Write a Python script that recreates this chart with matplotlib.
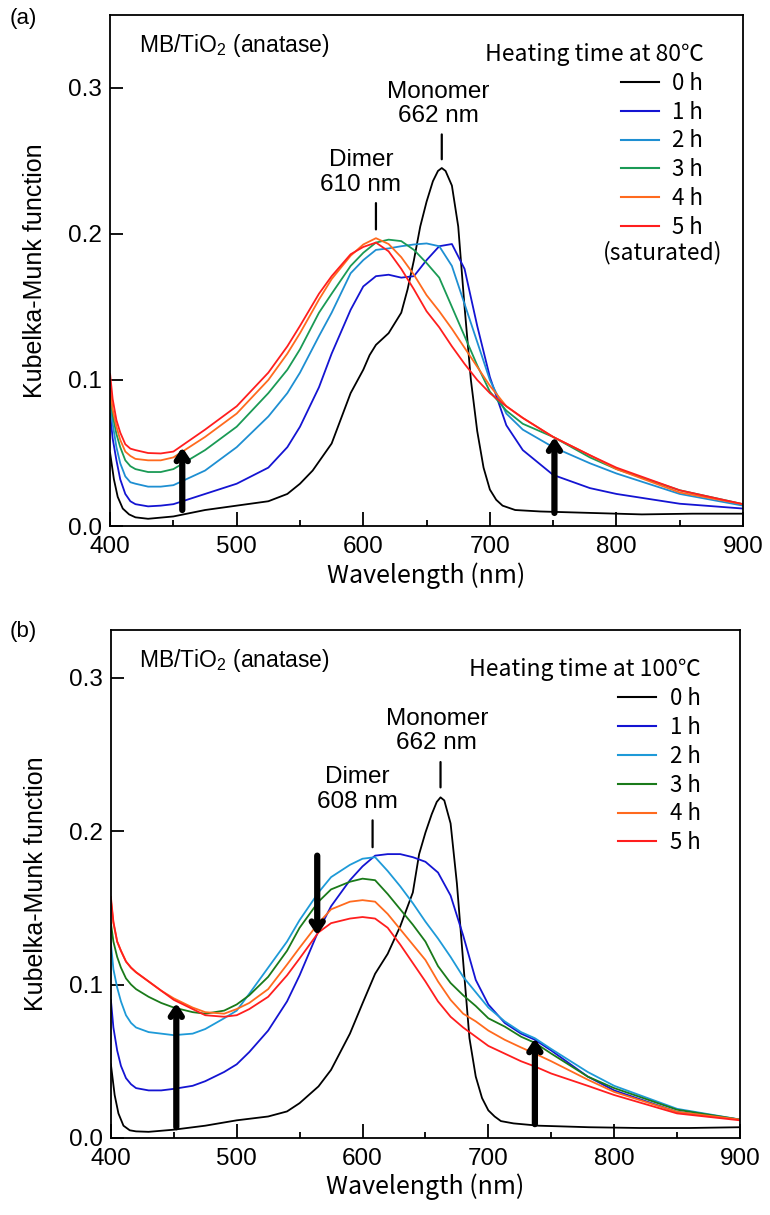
import matplotlib
matplotlib.use('Agg')
import matplotlib.pyplot as plt
from matplotlib.ticker import MultipleLocator

plt.rcParams['font.family'] = ['Liberation Sans', 'DejaVu Sans']
plt.rcParams['mathtext.default'] = 'regular'
JP = ['Noto Sans CJK JP', 'DejaVu Sans']

# ---- データ (a): 80℃ ----
wl_black_a = [400, 403, 406, 410, 415, 420, 430, 450, 475, 500, 525, 540, 550, 560, 575, 590, 600, 605, 610,
              620, 630, 635, 640, 645, 650, 655, 659, 662, 665, 670, 675, 680, 685, 690, 695, 700, 705, 710,
              720, 740, 780, 820, 860, 900]
km_0h_a = [0.050, 0.032, 0.020, 0.012, 0.008, 0.006, 0.005, 0.0066, 0.011, 0.014, 0.017, 0.022, 0.029, 0.038,
           0.0565, 0.091, 0.107, 0.117, 0.124, 0.132, 0.146, 0.162, 0.182, 0.205, 0.222, 0.236, 0.243, 0.245,
           0.243, 0.233, 0.205, 0.15, 0.10, 0.065, 0.04, 0.025, 0.018, 0.014, 0.011, 0.010, 0.009, 0.008,
           0.0085, 0.0085]

wl_a = [400, 402, 405, 408, 412, 416, 420, 430, 440, 450, 475, 500, 525, 540, 550, 565, 575, 590, 600, 610,
        620, 630, 640, 650, 660, 670, 680, 690, 700, 713, 726, 750, 779, 800, 850, 900]
km_1h_a = [0.077, 0.060, 0.045, 0.032, 0.022, 0.017, 0.015, 0.0135, 0.014, 0.015, 0.022, 0.029, 0.040, 0.054,
           0.068, 0.095, 0.118, 0.148, 0.164, 0.171, 0.172, 0.170, 0.171, 0.182, 0.1915, 0.193, 0.176, 0.137,
           0.102, 0.069, 0.052, 0.035, 0.026, 0.022, 0.0153, 0.012]
km_2h_a = [0.086, 0.070, 0.054, 0.043, 0.034, 0.030, 0.029, 0.027, 0.027, 0.028, 0.038, 0.054, 0.075, 0.091,
           0.105, 0.130, 0.146, 0.173, 0.182, 0.189, 0.190, 0.1915, 0.1927, 0.1934, 0.1915, 0.178, 0.152, 0.126,
           0.100, 0.077, 0.066, 0.054, 0.043, 0.036, 0.022, 0.014]
km_3h_a = [0.091, 0.076, 0.063, 0.054, 0.045, 0.041, 0.039, 0.037, 0.037, 0.039, 0.052, 0.068, 0.091, 0.107,
           0.121, 0.146, 0.159, 0.178, 0.187, 0.194, 0.196, 0.195, 0.189, 0.180, 0.170, 0.150, 0.130, 0.110,
           0.092, 0.079, 0.070, 0.061, 0.047, 0.039, 0.0245, 0.015]
km_4h_a = [0.094, 0.080, 0.068, 0.059, 0.051, 0.048, 0.046, 0.045, 0.045, 0.047, 0.061, 0.077, 0.100, 0.118,
           0.132, 0.155, 0.169, 0.185, 0.1927, 0.197, 0.193, 0.184, 0.172, 0.158, 0.147, 0.135, 0.122, 0.109,
           0.096, 0.082, 0.074, 0.061, 0.0485, 0.039, 0.023, 0.015]
km_5h_a = [0.104, 0.087, 0.0725, 0.064, 0.056, 0.053, 0.052, 0.050, 0.0497, 0.051, 0.066, 0.082, 0.105, 0.123,
           0.137, 0.159, 0.171, 0.186, 0.191, 0.194, 0.188, 0.176, 0.162, 0.147, 0.136, 0.123, 0.111, 0.100,
           0.091, 0.082, 0.074, 0.061, 0.0485, 0.040, 0.0245, 0.015]

# ---- データ (b): 100℃ ----
wl_black_b = [400, 403, 406, 410, 415, 420, 430, 450, 475, 500, 525, 540, 550, 565, 575, 590, 600, 610, 620,
              630, 640, 645, 650, 655, 659, 662, 665, 670, 675, 680, 685, 690, 695, 700, 705, 710, 720, 740,
              780, 820, 860, 900]
km_0h_b = [0.048, 0.028, 0.016, 0.008, 0.005, 0.0043, 0.004, 0.0054, 0.008, 0.0115, 0.014, 0.0173, 0.0227,
           0.0336, 0.0444, 0.068, 0.0877, 0.107, 0.120, 0.138, 0.160, 0.185, 0.199, 0.211, 0.219, 0.222, 0.220,
           0.205, 0.166, 0.115, 0.065, 0.040, 0.026, 0.018, 0.014, 0.011, 0.0095, 0.008, 0.007, 0.0065,
           0.0065, 0.007]

wl_b = [400, 402, 405, 408, 412, 416, 420, 430, 440, 450, 465, 475, 490, 500, 510, 525, 540, 550, 565, 575,
        590, 600, 610, 620, 630, 640, 650, 660, 670, 680, 690, 700, 713, 726, 737, 750, 779, 800, 850, 900]
km_1h_b = [0.090, 0.072, 0.057, 0.047, 0.039, 0.035, 0.0325, 0.031, 0.031, 0.032, 0.034, 0.037, 0.043, 0.048,
           0.056, 0.070, 0.089, 0.106, 0.135, 0.151, 0.168, 0.177, 0.184, 0.185, 0.185, 0.183, 0.180, 0.173,
           0.158, 0.132, 0.103, 0.087, 0.075, 0.068, 0.064, 0.057, 0.040, 0.031, 0.017, 0.012]
km_2h_b = [0.127, 0.110, 0.098, 0.089, 0.080, 0.075, 0.072, 0.069, 0.068, 0.067, 0.068, 0.071, 0.078, 0.083,
           0.094, 0.111, 0.128, 0.142, 0.160, 0.170, 0.178, 0.182, 0.183, 0.174, 0.164, 0.153, 0.141, 0.130,
           0.118, 0.105, 0.095, 0.085, 0.076, 0.069, 0.065, 0.058, 0.043, 0.034, 0.019, 0.012]
km_3h_b = [0.140, 0.128, 0.118, 0.111, 0.104, 0.100, 0.097, 0.092, 0.088, 0.085, 0.082, 0.081, 0.083, 0.087,
           0.093, 0.105, 0.122, 0.137, 0.154, 0.162, 0.167, 0.169, 0.168, 0.159, 0.149, 0.139, 0.128, 0.112,
           0.101, 0.093, 0.086, 0.078, 0.0726, 0.066, 0.062, 0.055, 0.040, 0.0325, 0.0184, 0.012]
km_4h_b = [0.155, 0.140, 0.128, 0.122, 0.115, 0.111, 0.108, 0.102, 0.096, 0.091, 0.085, 0.082, 0.081, 0.084,
           0.088, 0.097, 0.113, 0.124, 0.140, 0.149, 0.154, 0.155, 0.154, 0.146, 0.136, 0.126, 0.116, 0.102,
           0.090, 0.081, 0.076, 0.070, 0.064, 0.059, 0.055, 0.050, 0.038, 0.030, 0.017, 0.012]
km_5h_b = [0.157, 0.141, 0.128, 0.122, 0.115, 0.111, 0.108, 0.102, 0.096, 0.090, 0.084, 0.080, 0.079, 0.080,
           0.084, 0.092, 0.106, 0.117, 0.134, 0.140, 0.143, 0.144, 0.143, 0.137, 0.126, 0.114, 0.102, 0.089,
           0.079, 0.072, 0.066, 0.060, 0.055, 0.050, 0.0466, 0.042, 0.034, 0.028, 0.016, 0.0115]

labels = ['0 h', '1 h', '2 h', '3 h', '4 h', '5 h']
colors_a = ['black', '#1414d2', '#1e8fd2', '#1a9a55', '#ff6a1e', '#ff1e1e']
colors_b = ['black', '#1414d2', '#1e9ad8', '#1a7a1a', '#ff6a1e', '#ff1e1e']

panels = [
    dict(pos=[0.143, 0.567, 0.822, 0.421], ymax=0.35, tag='(a)', tag_y=0.985, temp='80℃',
         wl0=wl_black_a, wl=wl_a, series=[km_0h_a, km_1h_a, km_2h_a, km_3h_a, km_4h_a, km_5h_a], colors=colors_a,
         dimer=610, dimer_y=(0.203, 0.221), mono_y=(0.251, 0.268),
         up_arrows=[(457, 0.011, 0.054), (751, 0.009, 0.061)], down_arrows=[]),
    dict(pos=[0.144, 0.0634, 0.817, 0.418], ymax=0.331, tag='(b)', tag_y=0.48, temp='100℃',
         wl0=wl_black_b, wl=wl_b, series=[km_0h_b, km_1h_b, km_2h_b, km_3h_b, km_4h_b, km_5h_b], colors=colors_b,
         dimer=608, dimer_y=(0.1895, 0.207), mono_y=(0.2285, 0.245),
         up_arrows=[(452, 0.007, 0.088), (737, 0.009, 0.065)], down_arrows=[(564, 0.184, 0.132)]),
]

fig = plt.figure(figsize=(7.7, 12.15), dpi=100)

for p in panels:
    ax = fig.add_axes(p['pos'])
    for i, (vals, col, lab) in enumerate(zip(p['series'], p['colors'], labels)):
        x = p['wl0'] if i == 0 else p['wl']
        ax.plot(x, vals, color=col, lw=1.3, label=lab)

    ax.set_xlim(400, 900)
    ax.set_ylim(0, p['ymax'])
    ax.set_xticks(range(400, 901, 100))
    ax.xaxis.set_minor_locator(MultipleLocator(50))
    ax.set_yticks([0.0, 0.1, 0.2, 0.3])
    ax.set_yticklabels(['0.0', '0.1', '0.2', '0.3'])
    ax.tick_params(axis='both', which='major', direction='in', labelsize=17.5, width=1.3)
    ax.tick_params(axis='x', which='major', length=10, pad=7)
    ax.tick_params(axis='y', which='major', length=9, pad=6)
    ax.tick_params(axis='x', which='minor', direction='in', length=4.5, width=1.3)
    for s in ax.spines.values():
        s.set_linewidth(1.3)

    ax.set_xlabel('Wavelength (nm)', family=JP, fontsize=18, labelpad=3)
    ax.set_ylabel('Kubelka-Munk function', fontsize=18, labelpad=15)

    fig.text(0.013, p['tag_y'], p['tag'], fontsize=16, va='center')
    ax.text(0.045, 0.94, 'MB/TiO$_2$ (anatase)', transform=ax.transAxes, fontsize=16.5, va='center')

    # ピーク注記
    d0, d1 = p['dimer_y']
    ax.annotate('', xy=(p['dimer'], d0), xytext=(p['dimer'], d1),
                arrowprops=dict(arrowstyle='-', lw=1.6, color='black', shrinkA=0, shrinkB=0))
    ax.text(p['dimer'] - 12, d1 + 0.005, f"Dimer\n{p['dimer']} nm", ha='center', va='bottom',
            fontsize=17.5, linespacing=1.15)
    m0, m1 = p['mono_y']
    ax.annotate('', xy=(662, m0), xytext=(662, m1),
                arrowprops=dict(arrowstyle='-', lw=1.6, color='black', shrinkA=0, shrinkB=0))
    ax.text(659, m1 + 0.005, 'Monomer\n662 nm', ha='center', va='bottom', fontsize=17.5, linespacing=1.15)

    # 変化の矢印
    for xw, y0, y1 in p['up_arrows'] + p['down_arrows']:
        ax.annotate('', xy=(xw, y1), xytext=(xw, y0),
                    arrowprops=dict(arrowstyle='->,head_length=0.6,head_width=0.4', lw=4.5,
                                    color='black', shrinkA=0, shrinkB=0))

    leg = ax.legend(loc='upper right', bbox_to_anchor=(0.955, 0.966), frameon=False,
                    title='Heating time at ' + p['temp'], alignment='right',
                    prop={'family': JP, 'size': 16}, handlelength=1.7, handletextpad=0.6,
                    labelspacing=0.26, borderpad=0, title_fontproperties={'family': JP, 'size': 16.5})
    for line in leg.get_lines():
        line.set_linewidth(1.5)
    if p['tag'] == '(a)':
        ax.text(0.968, 0.535, '(saturated)', transform=ax.transAxes, family=JP, fontsize=16.5,
                ha='right', va='center')

fig.savefig('out.png', dpi=100)
